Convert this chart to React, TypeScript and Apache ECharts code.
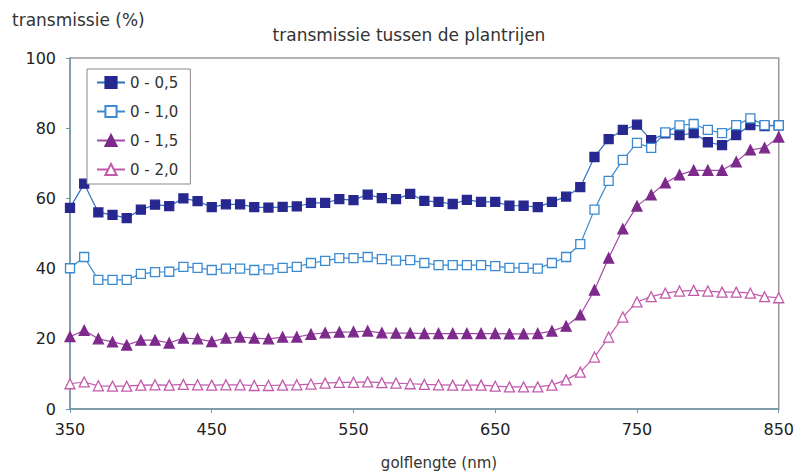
import React, { useEffect, useRef } from "react";
import * as echarts from "echarts";

const wavelengths = [350,360,370,380,390,400,410,420,430,440,450,460,470,480,490,500,510,520,530,540,550,560,570,580,590,600,610,620,630,640,650,660,670,680,690,700,710,720,730,740,750,760,770,780,790,800,810,820,830,840,850];

const s05 = [57.3,64.2,56,55.3,54.4,56.8,58.2,57.8,60,59.2,57.5,58.3,58.3,57.5,57.4,57.6,57.7,58.7,58.7,59.8,59.5,61.1,60.1,59.8,61.3,59.3,59,58.4,59.6,59,59,57.9,57.9,57.5,59,60.5,63.2,71.8,76.9,79.5,81,76.6,78.5,78,78.6,76,75.2,78,80.9,80.6,80.8];
const s10 = [40.1,43.3,36.8,36.8,36.8,38.5,39,39.1,40.5,40.2,39.6,40,40,39.6,39.8,40.2,40.5,41.6,42.2,43,43,43.3,42.7,42.3,42.4,41.6,41,41,41,41,40.7,40.2,40.2,40,41.6,43.3,47,56.8,65,71,75.8,74.4,78.8,80.8,81.2,79.5,78.6,80.9,82.8,80.9,80.8];
const s15 = [20.6,22.4,20,19.1,18.2,19.6,19.6,18.8,20.2,20,19.2,20.2,20.5,20.2,20,20.5,20.5,21.3,21.7,21.9,22,22.2,21.7,21.6,21.6,21.5,21.5,21.5,21.5,21.5,21.5,21.4,21.4,21.5,22.2,23.6,26.8,33.9,43,51.3,57.8,61,64.4,66.7,68,68,68,70.4,73.8,74.4,77.5];
const s20 = [7.2,7.7,6.6,6.5,6.5,6.8,6.9,6.8,7,6.9,6.8,6.9,6.9,6.7,6.7,6.8,6.9,7.1,7.4,7.6,7.6,7.7,7.5,7.4,7.2,7,6.9,6.8,6.8,6.8,6.5,6.3,6.3,6.3,6.8,8.3,10.5,14.8,20.5,26.2,30.5,32,33,33.6,33.8,33.6,33.3,33.3,33,32,31.7];

const seriesNames = ["0 - 0,5", "0 - 1,0", "0 - 1,5", "0 - 2,0"];
const xTicks = [350, 450, 550, 650, 750, 850];
const yTicks = [0, 20, 40, 60, 80, 100];

const pair = (ys: number[]) => wavelengths.map((x, i) => [x, ys[i]]);

export default function App() {
  const ref = useRef<HTMLDivElement>(null);
  useEffect(() => {
    if (!ref.current) return;
    const chart = echarts.init(ref.current, null, { renderer: "svg" });
    const font = "DejaVu Sans";
    const mk = (name: string, data: number[], symbol: string, fill: string, border: string, line: string, size: number) => ({
      name,
      type: "line",
      data: pair(data),
      symbol,
      symbolSize: size,
      showSymbol: true,
      lineStyle: { color: line, width: 1.2 },
      itemStyle: { color: fill, borderColor: border, borderWidth: 1.3 },
      emphasis: { disabled: true },
    });
    chart.setOption({
      animation: false,
      backgroundColor: "#ffffff",
      textStyle: { fontFamily: font },
      title: {
        text: "transmissie tussen de plantrijen",
        left: 404,
        top: 21,
        textAlign: "center",
        textStyle: { fontFamily: font, fontSize: 17, fontWeight: "normal", color: "#333" },
      },
      legend: {
        orient: "vertical",
        left: 87,
        top: 69,
        itemGap: 14,
        itemWidth: 28,
        itemHeight: 14,
        padding: [6, 12, 7, 9],
        borderColor: "#888",
        borderWidth: 1,
        backgroundColor: "#fff",
        data: seriesNames,
        textStyle: { fontFamily: font, fontSize: 15, color: "#333" },
      },
      grid: {
        left: 70,
        right: 17,
        top: 58,
        bottom: 66,
        show: true,
        borderColor: "#9a9a9a",
        borderWidth: 1.5,
        backgroundColor: "transparent",
      },
      xAxis: {
        type: "value",
        min: 350,
        max: 850,
        interval: 100,
        axisLine: { lineStyle: { color: "#6f98a8", width: 1.5 } },
        axisTick: { show: true, length: 4, lineStyle: { color: "#6f98a8" } },
        axisLabel: { fontFamily: font, fontSize: 16, color: "#222", margin: 12, formatter: (v: number) => (xTicks.includes(v) ? String(v) : "") },
        splitLine: { show: false },
      },
      yAxis: {
        type: "value",
        min: 0,
        max: 100,
        interval: 20,
        axisLine: { show: true, lineStyle: { color: "#6f98a8", width: 1.5 } },
        axisTick: { show: true, length: 4, lineStyle: { color: "#6f98a8" } },
        axisLabel: { fontFamily: font, fontSize: 16, color: "#222", margin: 14, formatter: (v: number) => (yTicks.includes(v) ? String(v) : "") },
        splitLine: { show: false },
      },
      graphic: [
        {
          type: "text",
          left: 12,
          top: 11,
          style: { text: "transmissie (%)", fontFamily: font, fontSize: 17, fill: "#333" },
        },
        {
          type: "text",
          x: 439,
          y: 463,
          style: { text: "golflengte (nm)", fontFamily: font, fontSize: 15, fill: "#333", align: "center", verticalAlign: "middle" },
        },
      ],
      series: [
        mk(seriesNames[0], s05, "rect", "#27288f", "#27288f", "#2f6fbf", 9),
        mk(seriesNames[1], s10, "rect", "#ffffff", "#3b8ad2", "#3b8ad2", 9),
        mk(seriesNames[2], s15, "triangle", "#7d2a8c", "#7d2a8c", "#a04aa8", 10),
        mk(seriesNames[3], s20, "triangle", "#ffffff", "#c25aac", "#c25aac", 10),
      ],
    });
    return () => chart.dispose();
  }, []);
  return <div ref={ref} style={{ width: 797, height: 475, position: "absolute", left: 0, top: 0 }} />;
}
